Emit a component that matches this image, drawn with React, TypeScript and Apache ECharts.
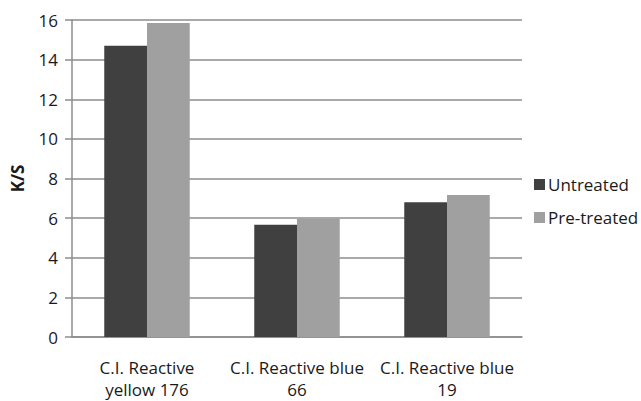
import React, { useEffect, useRef } from "react";
import * as echarts from "echarts";

const categories = [
  "C.I. Reactive\nyellow 176",
  "C.I. Reactive blue\n66",
  "C.I. Reactive blue\n19",
];
const untreated = [14.7, 5.66, 6.8];
const preTreated = [15.85, 5.97, 7.17];
const seriesNames = ["Untreated", "Pre-treated"];
const yTicks = { min: 0, max: 16, interval: 2 };

const FONT = "'Open Sans', Lato, sans-serif";

export default function App() {
  const ref = useRef<HTMLDivElement>(null);

  useEffect(() => {
    if (!ref.current) return;
    const chart = echarts.init(ref.current, undefined, { renderer: "svg" });
    chart.setOption({
      animation: false,
      backgroundColor: "#ffffff",
      grid: { left: 72, right: 119, top: 20, bottom: 64, outerBoundsMode: "none", containLabel: false },
      legend: {
        orient: "vertical",
        left: 534,
        top: 176,
        padding: 0,
        itemWidth: 11,
        itemHeight: 11,
        itemGap: 16,
        icon: "rect",
        textStyle: { fontFamily: FONT, fontSize: 17, color: "#1a1a1a", padding: [0, 0, 0, -2] },
        data: seriesNames,
      },
      xAxis: {
        type: "category",
        data: categories,
        axisLine: { lineStyle: { color: "#8c8c8c", width: 1.5 } },
        axisTick: { show: false },
        axisLabel: {
          fontFamily: FONT,
          fontSize: 17,
          color: "#1a1a1a",
          lineHeight: 22,
          margin: 19,
          interval: 0,
        },
      },
      yAxis: {
        type: "value",
        min: yTicks.min,
        max: yTicks.max,
        interval: yTicks.interval,
        name: "K/S",
        nameLocation: "middle",
        nameGap: 46,
        nameRotate: 90,
        nameTextStyle: { fontFamily: FONT, fontSize: 17, fontWeight: "bold", color: "#1a1a1a" },
        axisLine: { show: true, lineStyle: { color: "#8c8c8c", width: 1.5 } },
        axisTick: { show: true, length: 7, lineStyle: { color: "#8c8c8c", width: 1.5 } },
        axisLabel: { fontFamily: FONT, fontSize: 17, color: "#1a1a1a", margin: 14 },
        splitLine: { lineStyle: { color: "#8c8c8c", width: 1.5 } },
      },
      series: [
        {
          name: seriesNames[0],
          type: "bar",
          data: untreated,
          itemStyle: { color: "#404040" },
          barGap: "0%",
          barCategoryGap: "43%",
        },
        {
          name: seriesNames[1],
          type: "bar",
          data: preTreated,
          itemStyle: { color: "#a0a0a0" },
          barGap: "0%",
          barCategoryGap: "43%",
        },
      ],
    });
    return () => chart.dispose();
  }, []);

  return (
    <div
      ref={ref}
      style={{ position: "fixed", left: 0, top: 0, width: 641, height: 401, background: "#fff" }}
    />
  );
}
